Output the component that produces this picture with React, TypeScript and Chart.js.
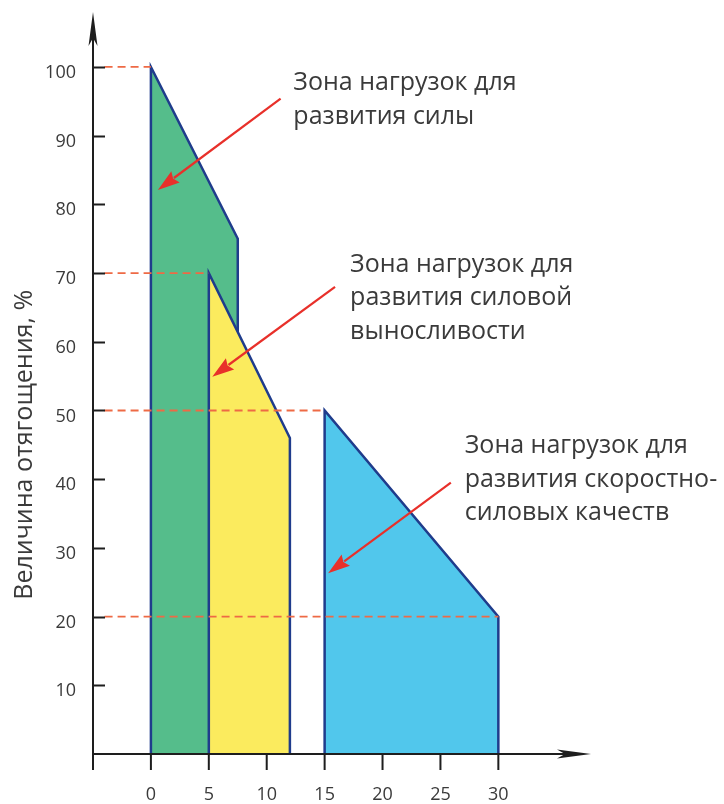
import React, { useEffect, useRef } from 'react';
import { Chart, registerables } from 'chart.js';

Chart.register(...registerables);

// ---- axis ranges & ticks ----
const xRange = [-5, 38];
const yRange = [0, 108];
const xTickValues = [-5, 0, 5, 10, 15, 20, 25, 30];
const xTickLabels = ['', '0', '5', '10', '15', '20', '25', '30'];
const yTickValues = [10, 20, 30, 40, 50, 60, 70, 80, 90, 100];
const yAxisTitle = 'Величина отягощения, %';

// ---- zones (x, % load) ----
const strengthZoneX = [0, 0, 7.5, 7.5];
const strengthZoneY = [0, 100, 75, 0];
const enduranceZoneX = [5, 5, 12, 12];
const enduranceZoneY = [0, 70, 46, 0];
const speedZoneX = [15, 15, 30, 30];
const speedZoneY = [0, 50, 20, 0];

// ---- dashed guide lines ----
const guideLevels = [100, 70, 50, 20];
const guideEnds = [0, 5, 15, 30];

// ---- annotations ----
const zoneLabels = [
  ['Зона нагрузок для', 'развития силы'],
  ['Зона нагрузок для', 'развития силовой', 'выносливости'],
  ['Зона нагрузок для', 'развития скоростно-', 'силовых качеств'],
];
const labelAnchorX = [12.3, 17.2, 27.1];
const labelAnchorY = [96.6, 70.2, 43.8];
const arrowFromX = [11.2, 15.9, 25.9];
const arrowFromY = [95.4, 68.0, 39.5];
const arrowToX = [0.6, 5.3, 15.3];
const arrowToY = [82.1, 54.9, 26.3];

const FONT = '"Open Sans", "Noto Sans", sans-serif';
const TEXT_COLOR = '#3a3a3a';
const AXIS_COLOR = '#1e1e1e';

const toPts = (xs: number[], ys: number[]) => xs.map((x, i) => ({ x, y: ys[i] }));

function drawArrow(ctx: CanvasRenderingContext2D, x1: number, y1: number, x2: number, y2: number, len: number, halfW: number) {
  const a = Math.atan2(y2 - y1, x2 - x1);
  const c = Math.cos(a), s = Math.sin(a);
  const bx = x2 - len * c, by = y2 - len * s;
  ctx.beginPath();
  ctx.moveTo(x1, y1);
  ctx.lineTo(bx + 2 * c, by + 2 * s);
  ctx.stroke();
  ctx.beginPath();
  ctx.moveTo(x2, y2);
  ctx.lineTo(bx - halfW * s, by + halfW * c);
  ctx.lineTo(bx + 3 * c, by + 3 * s);
  ctx.lineTo(bx + halfW * s, by - halfW * c);
  ctx.closePath();
  ctx.fill();
}

const decorPlugin = {
  id: 'decor',
  afterDatasetsDraw(chart: any) {
    const { ctx, scales } = chart;
    const xs = scales.x, ys = scales.y;
    ctx.save();
    // red arrows
    ctx.strokeStyle = '#e8302a';
    ctx.fillStyle = '#e8302a';
    ctx.lineWidth = 2.2;
    for (let i = 0; i < arrowFromX.length; i++) {
      drawArrow(
        ctx,
        xs.getPixelForValue(arrowFromX[i]), ys.getPixelForValue(arrowFromY[i]),
        xs.getPixelForValue(arrowToX[i]), ys.getPixelForValue(arrowToY[i]),
        22, 7
      );
    }
    // zone labels
    ctx.fillStyle = TEXT_COLOR;
    ctx.font = `25px ${FONT}`;
    ctx.textAlign = 'left';
    ctx.textBaseline = 'alphabetic';
    zoneLabels.forEach((lines, i) => {
      const lx = xs.getPixelForValue(labelAnchorX[i]);
      const ly = ys.getPixelForValue(labelAnchorY[i]);
      lines.forEach((t, j) => ctx.fillText(t, lx, ly + j * 33.5));
    });
    ctx.restore();
  },
  afterDraw(chart: any) {
    const { ctx, scales } = chart;
    const xs = scales.x, ys = scales.y;
    const x0 = xs.getPixelForValue(xRange[0]);
    const y0 = ys.getPixelForValue(0);
    const xEnd = xs.getPixelForValue(xRange[1]);
    const yEnd = ys.getPixelForValue(yRange[1]);
    ctx.save();
    ctx.strokeStyle = AXIS_COLOR;
    ctx.fillStyle = AXIS_COLOR;
    ctx.lineWidth = 2;
    // axes lines
    ctx.beginPath();
    ctx.moveTo(x0, y0 + 16);
    ctx.lineTo(x0, yEnd + 20);
    ctx.moveTo(x0, y0);
    ctx.lineTo(xEnd - 20, y0);
    ctx.stroke();
    // arrow heads
    const head = (tx: number, ty: number, dx: number, dy: number) => {
      const L = 34, W = 4.5;
      const bx = tx - dx * L, by = ty - dy * L;
      ctx.beginPath();
      ctx.moveTo(tx, ty);
      ctx.lineTo(bx - dy * W, by + dx * W);
      ctx.lineTo(bx + dx * 8, by + dy * 8);
      ctx.lineTo(bx + dy * W, by - dx * W);
      ctx.closePath();
      ctx.fill();
    };
    head(x0, yEnd, 0, -1);
    head(xEnd, y0, 1, 0);
    // y tick marks (inside)
    ctx.beginPath();
    yTickValues.forEach((v) => {
      const py = Math.round(ys.getPixelForValue(v)) + 0.5;
      ctx.moveTo(x0, py);
      ctx.lineTo(x0 + 12, py);
    });
    ctx.lineWidth = 1.8;
    ctx.stroke();
    // x tick marks (below)
    ctx.beginPath();
    xTickValues.forEach((v) => {
      const px = xs.getPixelForValue(v);
      ctx.moveTo(px, y0);
      ctx.lineTo(px, y0 + 16);
    });
    ctx.lineWidth = 2;
    ctx.stroke();
    // y axis title
    ctx.translate(x0 - 68, ys.getPixelForValue(45));
    ctx.rotate(-Math.PI / 2);
    ctx.fillStyle = TEXT_COLOR;
    ctx.font = `25px ${FONT}`;
    ctx.textAlign = 'center';
    ctx.textBaseline = 'middle';
    ctx.fillText(yAxisTitle, 0, 0);
    ctx.restore();
  },
};

export default function App() {
  const ref = useRef<HTMLCanvasElement | null>(null);
  useEffect(() => {
    if (!ref.current) return;
    const zoneStyle = (bg: string, order: number) => ({
      showLine: true,
      fill: 'origin',
      backgroundColor: bg,
      borderColor: '#1f3c8c',
      borderWidth: 2.5,
      borderJoinStyle: 'miter' as const,
      pointRadius: 0,
      tension: 0,
      order,
    });
    const guides = guideLevels.map((lvl, i) => ({
      data: [{ x: xRange[0] + 1, y: lvl }, { x: guideEnds[i], y: lvl }],
      showLine: true,
      fill: false,
      borderColor: '#ee6a45',
      borderWidth: 1.8,
      borderDash: [8, 5],
      pointRadius: 0,
      order: 0,
    }));
    const chart = new Chart(ref.current, {
      type: 'scatter',
      data: {
        datasets: [
          { data: toPts(strengthZoneX, strengthZoneY), ...zoneStyle('#55bd8b', 3) },
          { data: toPts(enduranceZoneX, enduranceZoneY), ...zoneStyle('#fbeb5e', 2) },
          { data: toPts(speedZoneX, speedZoneY), ...zoneStyle('#51c7ec', 1) },
          ...guides,
        ] as any,
      },
      options: {
        animation: false,
        responsive: false,
        layout: { padding: { top: 12, right: 133, left: 0, bottom: 0 } },
        plugins: { legend: { display: false }, tooltip: { enabled: false } },
        scales: {
          x: {
            type: 'linear',
            min: xRange[0],
            max: xRange[1],
            afterBuildTicks: (s: any) => { s.ticks = xTickValues.map((v) => ({ value: v })); },
            afterFit: (s: any) => { s.height = 50; s.paddingLeft = 0; s.paddingRight = 0; },
            grid: { display: false, drawTicks: false },
            border: { display: false },
            ticks: {
              autoSkip: false,
              maxRotation: 0,
              padding: 30,
              color: TEXT_COLOR,
              font: { family: FONT, size: 18 },
              callback: (v: any) => xTickLabels[xTickValues.indexOf(Number(v))] ?? '',
            },
          },
          y: {
            type: 'linear',
            min: yRange[0],
            max: yRange[1],
            afterBuildTicks: (s: any) => { s.ticks = yTickValues.map((v) => ({ value: v })); },
            afterFit: (s: any) => { s.width = 93; s.paddingTop = 0; s.paddingBottom = 0; },
            grid: { display: false, drawTicks: false },
            border: { display: false },
            ticks: {
              autoSkip: false,
              padding: 17,
              labelOffset: 6,
              color: TEXT_COLOR,
              font: { family: FONT, size: 18 },
              callback: (v: any) => String(v),
            },
          },
        },
      } as any,
      plugins: [decorPlugin],
    });
    return () => chart.destroy();
  }, []);
  return (
    <div style={{ position: 'absolute', left: 0, top: 0, width: 724, height: 804, background: '#fff' }}>
      <canvas ref={ref} width={724} height={804} style={{ display: 'block' }} />
    </div>
  );
}
